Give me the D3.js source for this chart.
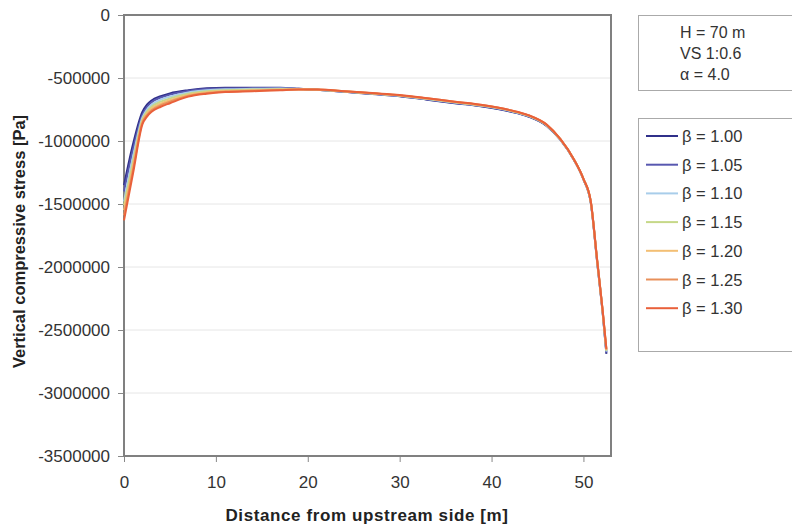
<!DOCTYPE html>
<html>
<head>
<meta charset="utf-8">
<script src="https://cdn.jsdelivr.net/npm/d3@7"></script>
<style>
  body { margin: 0; background: #fff; }
  svg { display: block; font-family: "Liberation Sans", Arial, sans-serif; }
</style>
</head>
<body>
<svg id="chart" width="792" height="528"></svg>
<script>
// ---- data ----
const distance = [0, 1, 2, 2.5, 3, 4, 5, 7, 9, 11, 14, 17, 19, 21, 24, 27, 30, 33, 36, 39, 42, 44, 46, 47.5, 49, 50, 50.8, 51.5, 52.1, 52.5];

const beta100 = [-1350000, -1020000, -770000, -712000, -678000, -645000, -622000, -597000, -582000, -578000, -578000, -578000, -585000, -594000, -610000, -628000, -645000, -672000, -700000, -726000, -766000, -806000, -880000, -992000, -1155000, -1305000, -1490000, -1965000, -2370000, -2690000];
const beta105 = [-1400000, -1060000, -795000, -730000, -692000, -655000, -632000, -604000, -588000, -583000, -581000, -580000, -586000, -594000, -609000, -626000, -643000, -670000, -698000, -724000, -764000, -804000, -878000, -990000, -1153000, -1303000, -1487000, -1960000, -2365000, -2680000];
const beta110 = [-1480000, -1120000, -815000, -750000, -712000, -672000, -648000, -615000, -598000, -590000, -586000, -584000, -587000, -593000, -608000, -624000, -641000, -667000, -695000, -721000, -761000, -801000, -876000, -989000, -1152000, -1302000, -1485000, -1958000, -2360000, -2672000];
const beta115 = [-1510000, -1160000, -830000, -766000, -728000, -688000, -662000, -625000, -606000, -597000, -592000, -589000, -589000, -593000, -607000, -623000, -639000, -665000, -693000, -719000, -759000, -799000, -874000, -988000, -1151000, -1301000, -1483000, -1955000, -2357000, -2665000];
const beta120 = [-1550000, -1190000, -842000, -780000, -743000, -703000, -676000, -634000, -613000, -603000, -597000, -592000, -590000, -592000, -606000, -622000, -638000, -663000, -691000, -717000, -757000, -797000, -872000, -987000, -1150000, -1300000, -1481000, -1952000, -2354000, -2660000];
const beta125 = [-1590000, -1220000, -855000, -794000, -756000, -716000, -688000, -641000, -619000, -608000, -601000, -595000, -591000, -592000, -605000, -621000, -636000, -661000, -689000, -715000, -756000, -796000, -871000, -986000, -1150000, -1300000, -1480000, -1950000, -2352000, -2655000];
const beta130 = [-1630000, -1250000, -868000, -806000, -768000, -728000, -700000, -648000, -625000, -612000, -605000, -597000, -592000, -592000, -605000, -620000, -635000, -660000, -688000, -714000, -755000, -795000, -870000, -985000, -1150000, -1300000, -1480000, -1950000, -2350000, -2650000];

const seriesNames = ["β = 1.00", "β = 1.05", "β = 1.10", "β = 1.15", "β = 1.20", "β = 1.25", "β = 1.30"];
const seriesValues = [beta100, beta105, beta110, beta115, beta120, beta125, beta130];
const seriesColors = ["#30308a", "#5858b0", "#a8cdea", "#c6d888", "#f3bf74", "#e8905a", "#e9603a"];

const yTicks = [0, -500000, -1000000, -1500000, -2000000, -2500000, -3000000, -3500000];
const xTicks = [0, 10, 20, 30, 40, 50];
const infoLines = ["H = 70 m", "VS 1:0.6", "α = 4.0"];

const xTitle = "Distance from upstream side [m]";
const yTitle = "Vertical compressive stress [Pa]";

// ---- layout ----
const svg = d3.select("#chart");
const L = 124, R = 611, T = 15, B = 456;

const x = d3.scaleLinear().domain([0, 53]).range([L, R]);
const y = d3.scaleLinear().domain([-3500000, 0]).range([B, T]);

// gridlines
svg.append("g").selectAll("line").data(yTicks.slice(1, -1)).join("line")
  .attr("x1", L).attr("x2", R)
  .attr("y1", d => y(d)).attr("y2", d => y(d))
  .attr("stroke", "#e6e6e6").attr("stroke-width", 1);

// axes
const yAxis = d3.axisLeft(y).tickValues(yTicks).tickSize(6).tickPadding(8).tickFormat(d => String(d));
const gy = svg.append("g").attr("transform", `translate(${L},0)`).call(yAxis);
gy.select(".domain").remove();
gy.selectAll(".tick line").attr("stroke", "#888");
gy.selectAll(".tick text").attr("font-size", 17).attr("fill", "#333")
  .attr("font-family", "Liberation Sans, Arial, sans-serif");

const xAxis = d3.axisBottom(x).tickValues(xTicks).tickSize(6).tickPadding(14);
const gx = svg.append("g").attr("transform", `translate(0,${B})`).call(xAxis);
gx.select(".domain").remove();
gx.selectAll(".tick line").attr("stroke", "#888");
gx.selectAll(".tick text").attr("font-size", 17).attr("fill", "#333")
  .attr("font-family", "Liberation Sans, Arial, sans-serif");

// frame
svg.append("rect").attr("x", L).attr("y", T).attr("width", R - L).attr("height", B - T)
  .attr("fill", "none").attr("stroke", "#808080").attr("stroke-width", 2);

// lines
const line = d3.line().x((d, i) => x(distance[i])).y(d => y(d)).curve(d3.curveMonotoneX);
svg.append("g").selectAll("path").data(seriesValues).join("path")
  .attr("d", d => line(d))
  .attr("fill", "none")
  .attr("stroke", (d, i) => seriesColors[i])
  .attr("stroke-width", 2)
  .attr("stroke-linejoin", "round");

// axis titles
svg.append("text").attr("x", 367).attr("y", 521).attr("text-anchor", "middle")
  .attr("font-size", 17).attr("letter-spacing", 0.6).attr("font-weight", "bold").attr("fill", "#222").text(xTitle);
svg.append("text").attr("transform", `translate(25,${(T + B) / 2 + 6}) rotate(-90)`)
  .attr("text-anchor", "middle")
  .attr("font-size", 16.5).attr("font-weight", "bold").attr("fill", "#222").text(yTitle);

// info box
svg.append("rect").attr("x", 638.5).attr("y", 15.5).attr("width", 160).attr("height", 75)
  .attr("fill", "#fff").attr("stroke", "#aaa").attr("stroke-width", 1);
svg.append("g").selectAll("text").data(infoLines).join("text")
  .attr("x", 680).attr("y", (d, i) => 38 + i * 21)
  .attr("font-size", 16).attr("fill", "#333").text(d => d);

// legend box
svg.append("rect").attr("x", 638.5).attr("y", 118.5).attr("width", 160).attr("height", 233)
  .attr("fill", "#fff").attr("stroke", "#aaa").attr("stroke-width", 1);
const lg = svg.append("g").selectAll("g").data(seriesNames).join("g")
  .attr("transform", (d, i) => `translate(0,${136 + i * 28.7})`);
lg.append("line").attr("x1", 646).attr("x2", 678).attr("y1", 0).attr("y2", 0)
  .attr("stroke", (d, i) => seriesColors[i]).attr("stroke-width", 2);
lg.append("text").attr("x", 682).attr("y", 6).attr("font-size", 16.5).attr("fill", "#333").text(d => d);
</script>
</body>
</html>
